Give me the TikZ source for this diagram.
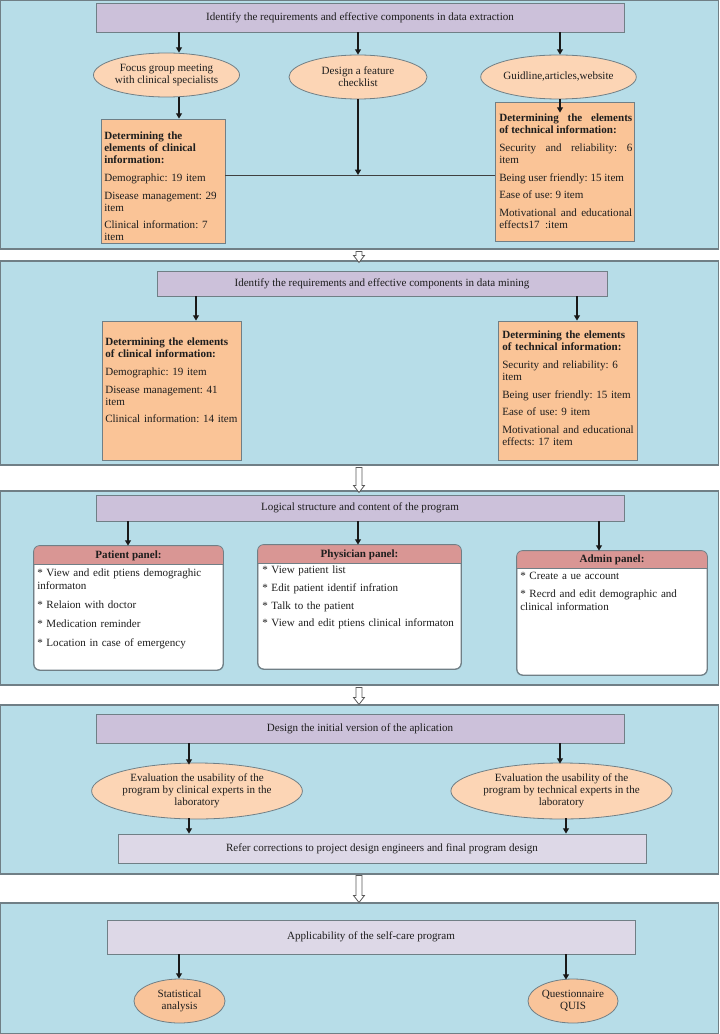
\documentclass[tikz,border=0pt]{standalone}
\usepackage{fontspec}
\setmainfont{Liberation Serif}
\usepackage[none]{hyphenat}
\usetikzlibrary{shapes.geometric,arrows.meta,fit,calc}
\definecolor{panelblue}{HTML}{B7DDE8}
\definecolor{bordergray}{HTML}{707F86}
\definecolor{titlepurple}{HTML}{CCC1DA}
\definecolor{lightpurple}{HTML}{DDD8E7}
\definecolor{orangebox}{HTML}{FAC497}
\definecolor{ellorange}{HTML}{FCD5B5}
\definecolor{ellorangeb}{HTML}{F9C49A}
\definecolor{headred}{HTML}{D99694}
\definecolor{txtcol}{HTML}{1E1E1E}
\frenchspacing
\newcommand\psk[1]{\setlength{\parskip}{#1}\hyphenpenalty=10000 \exhyphenpenalty=10000 \frenchspacing}
\newcommand\hollowarrow[2]{\draw[harrow] ($(#1)+(-3,0)$) -- ($(#1)+(3,0)$) -- ($(#2)+(3,-7)$) -- ($(#2)+(5.5,-7)$) -- (#2) -- ($(#2)+(-5.5,-7)$) -- ($(#2)+(-3,-7)$) -- cycle;}
\begin{document}
\begin{tikzpicture}[x=0.75pt,y=-0.75pt,
  every node/.style={font=\fontsize{8.3}{9}\selectfont, text=txtcol},
  panel/.style={draw=bordergray, fill=panelblue, line width=0.8pt, inner sep=0pt},
  titlebox/.style={draw=bordergray, fill=titlepurple, line width=0.6pt, inner sep=0pt},
  lightbox/.style={draw=bordergray, fill=lightpurple, line width=0.6pt, inner sep=0pt},
  orbox/.style={draw=bordergray, fill=orangebox, line width=0.6pt, inner sep=0pt},
  ell/.style={ellipse, draw=bordergray, fill=ellorange, line width=0.6pt, inner sep=0pt, align=center},
  txt/.style={anchor=north west, inner sep=0pt, align=left, text width=#1},
  jtxt/.style={anchor=north west, inner sep=0pt, align=justify, text width=#1},
  ptxt/.style={anchor=north west, inner sep=0pt, align=left, text width=#1, font=\fontsize{8.3}{9.75}\selectfont},
  whitebox/.style={draw=bordergray, fill=white, line width=0.6pt, inner sep=0pt, rounded corners=4.5pt},
  headtxt/.style={inner sep=0pt, font=\fontsize{8.3}{9}\selectfont\bfseries},
  arr/.style={draw=black!90, line width=0.9pt, -{Triangle[length=4pt,width=4.5pt]}},
  conn/.style={draw=black!75, line width=0.7pt},
  harrow/.style={draw=black!65, fill=white, line width=0.6pt}
]
\useasboundingbox (0,0) rectangle (719,1034);

% ---------- panels ----------
\node[panel, fit={(0.5,0.5) (718.5,249)}] (p1) {};
\node[panel, fit={(0.5,261) (718.5,465)}] (p2) {};
\node[panel, fit={(0.5,491) (718.5,685)}] (p3) {};
\node[panel, fit={(0.5,705) (718.5,874)}] (p4) {};
\node[panel, fit={(0.5,903) (718.5,1033.5)}] (p5) {};

% ---------- hollow arrows between panels ----------
\coordinate (hx) at (359,0);
\hollowarrow{$(p1.south -| hx)+(0,2)$}{$(p2.north -| hx)+(0,2)$}
\hollowarrow{$(p2.south -| hx)+(0,2)$}{$(p3.north -| hx)+(0,2)$}
\hollowarrow{$(p3.south -| hx)+(0,2)$}{$(p4.north -| hx)+(0,0)$}
\hollowarrow{$(p4.south -| hx)+(0,1)$}{$(p5.north -| hx)+(0,0)$}

% ---------- panel 1 ----------
\node[titlebox, fit={(96,3) (624,32)}] (t1) {};
\node[inner sep=0pt] (t1l) at (t1.center) {Identify the requirements and effective components in data extraction};
\node[ell, minimum width=104.25pt, minimum height=33pt] (e1) at (166.5,75) {Focus group meeting\\with clinical specialists};
\node[ell, minimum width=103.5pt, minimum height=33pt] (e2) at (358,77) {Design a feature\\checklist};
\node[ell, minimum width=104.25pt, minimum height=33pt] (e3) at (558.5,77) {Guidline,articles,website};
\node[orbox, fit={(101,119) (225,243)}] (b1) {};
\node[orbox, fit={(495,102) (634,241)}] (b2) {};
\coordinate (x1) at (179,0);
\coordinate (x2) at (358,0);
\coordinate (x3) at (560,0);
\coordinate (j1) at (358,175);
\draw[arr] (t1.south -| x1) -- (e1.north -| x1);
\draw[arr] (t1.south -| x2) -- (e2.north);
\draw[arr] (t1.south -| x3) -- (e3.north -| x3);
\draw[arr] (e1.south -| x1) -- (b1.north -| x1);
\draw[arr] (e3.south -| x3) -- ($(b2.north -| x3)+(0,11)$);
\draw[conn] (b1.east |- j1) -- (b2.west |- j1);
\draw[arr] (e2.south) -- (j1);
\node[txt=88.5pt] (b1t) at (104,132) {\psk{4.2pt}\textbf{Determining the elements of clinical information:}\par Demographic: 19 item\par Disease management: 29 item\par Clinical information: 7 item};
\node[jtxt=99.75pt] (b2t) at (499,114) {\psk{4.2pt}\textbf{Determining the elements\linebreak of technical information:}\par Security and reliability: 6\linebreak item\par Being user friendly: 15 item\par Ease of use: 9 item\par Motivational and educational effects17 \ :item};

% ---------- panel 2 ----------
\node[titlebox, fit={(157,271) (607,296)}] (t2) {};
\node[inner sep=0pt] (t2l) at (t2.center) {Identify the requirements and effective components in data mining};
\node[orbox, fit={(102,321) (241,460)}] (b3) {};
\node[orbox, fit={(498,321) (637,460)}] (b4) {};
\coordinate (x4) at (196,0);
\coordinate (x5) at (577,0);
\draw[arr] (t2.south -| x4) -- (b3.north -| x4);
\draw[arr] (t2.south -| x5) -- (b4.north -| x5);
\node[txt=100.5pt] (b3t) at (105,338) {\psk{4.2pt}\textbf{Determining the elements of clinical information:}\par Demographic: 19 item\par Disease management: 41 item\par Clinical information: 14 item};
\node[txt=99.75pt] (b4t) at (502,331) {\psk{4.2pt}\textbf{Determining the elements of technical information:}\par Security and reliability: 6 item\par Being user friendly: 15 item\par Ease of use: 9 item\par Motivational and educational effects: 17 item};

% ---------- panel 3 ----------
\node[titlebox, fit={(96,495) (624,521)}] (t3) {};
\node[inner sep=0pt] (t3l) at (t3.center) {Logical structure and content of the program};
% patient panel
\node[whitebox, fit={(34,546) (223,670)}] (pp) {};
\begin{scope}
\clip[rounded corners=4.5pt] (pp.north west) rectangle (pp.south east);
\fill[headred] (pp.north west) rectangle (223,564);
\end{scope}
\draw[bordergray, line width=0.6pt] (34,564) -- (223,564);
\draw[bordergray, line width=0.6pt, rounded corners=4.5pt] (pp.north west) rectangle (pp.south east);
\node[headtxt] (pph) at (128.5,555.5) {Patient panel:};
% physician panel
\node[whitebox, fit={(258,545) (461,669)}] (ph) {};
\begin{scope}
\clip[rounded corners=4.5pt] (ph.north west) rectangle (ph.south east);
\fill[headred] (ph.north west) rectangle (461,563);
\end{scope}
\draw[bordergray, line width=0.6pt] (258,563) -- (461,563);
\draw[bordergray, line width=0.6pt, rounded corners=4.5pt] (ph.north west) rectangle (ph.south east);
\node[headtxt] (phh) at (359.5,554.5) {Physician panel:};
% admin panel
\node[whitebox, fit={(517,551) (707,675)}] (pa) {};
\begin{scope}
\clip[rounded corners=4.5pt] (pa.north west) rectangle (pa.south east);
\fill[headred] (pa.north west) rectangle (707,568);
\end{scope}
\draw[bordergray, line width=0.6pt] (517,568) -- (707,568);
\draw[bordergray, line width=0.6pt, rounded corners=4.5pt] (pa.north west) rectangle (pa.south east);
\node[headtxt] (pah) at (612,560) {Admin panel:};
\coordinate (x6) at (128,0);
\coordinate (x7) at (358,0);
\coordinate (x8) at (599,0);
\draw[arr] (t3.south -| x6) -- (pp.north -| x6);
\draw[arr] (t3.south -| x7) -- (ph.north -| x7);
\draw[arr] (t3.south -| x8) -- (pa.north -| x8);
\node[ptxt=137pt] (ppt) at (37,569) {\psk{4.5pt}* View and edit ptiens demograghic informaton\par * Relaion with doctor\par * Medication reminder\par * Location in case of emergency};
\node[ptxt=150pt] (pht) at (262,566) {\psk{3.5pt}* View patient list\par * Edit patient identif infration\par * Talk to the patient\par * View and edit ptiens clinical informaton};
\node[ptxt=135pt] (pat) at (520,572) {\psk{3.8pt}* Create a ue account\par * Recrd and edit demographic and clinical information};

% ---------- panel 4 ----------
\node[titlebox, fit={(96,714) (624,743)}] (t4) {};
\node[inner sep=0pt] (t4l) at (t4.center) {Design the initial version of the aplication};
\node[ell, minimum width=147pt, minimum height=42pt] (e4a) at (197,791) {Evaluation the usability of the\\program by clinical experts in the\\laboratory};
\node[ell, minimum width=143.25pt, minimum height=42pt] (e4b) at (561.5,791) {Evaluation the usability of the\\program by technical experts in the\\laboratory};
\node[lightbox, fit={(118,834) (646,863)}] (b5) {};
\node[inner sep=0pt] (b5l) at (b5.center) {Refer corrections to project design engineers and final program design};
\coordinate (x9) at (189,0);
\coordinate (x10) at (560,0);
\coordinate (x11) at (566,0);
\draw[arr] (t4.south -| x9) -- ($(e4a.north -| x9)+(0,2)$);
\draw[arr] (t4.south -| x10) -- ($(e4b.north -| x10)+(0,1)$);
\draw[arr] ($(e4a.south -| x9)+(0,-1)$) -- (b5.north -| x9);
\draw[arr] ($(e4b.south -| x11)+(0,-1)$) -- (b5.north -| x11);

% ---------- panel 5 ----------
\node[lightbox, fit={(107,920) (635,954)}] (t5) {};
\node[inner sep=0pt] (t5l) at (t5.center) {Applicability of the self-care program};
\node[ell, fill=ellorangeb, minimum width=68.25pt, minimum height=33pt] (e5a) at (179.5,1001) {Statistical\\analysis};
\node[ell, fill=ellorangeb, minimum width=67.5pt, minimum height=33pt] (e5b) at (573,1001) {Questionnaire\\QUIS};
\coordinate (x12) at (179,0);
\coordinate (x13) at (566,0);
\draw[arr] (t5.south -| x12) -- (e5a.north -| x12);
\draw[arr] (t5.south -| x13) -- ($(e5b.north -| x13)+(0,1)$);
\end{tikzpicture}
\end{document}
